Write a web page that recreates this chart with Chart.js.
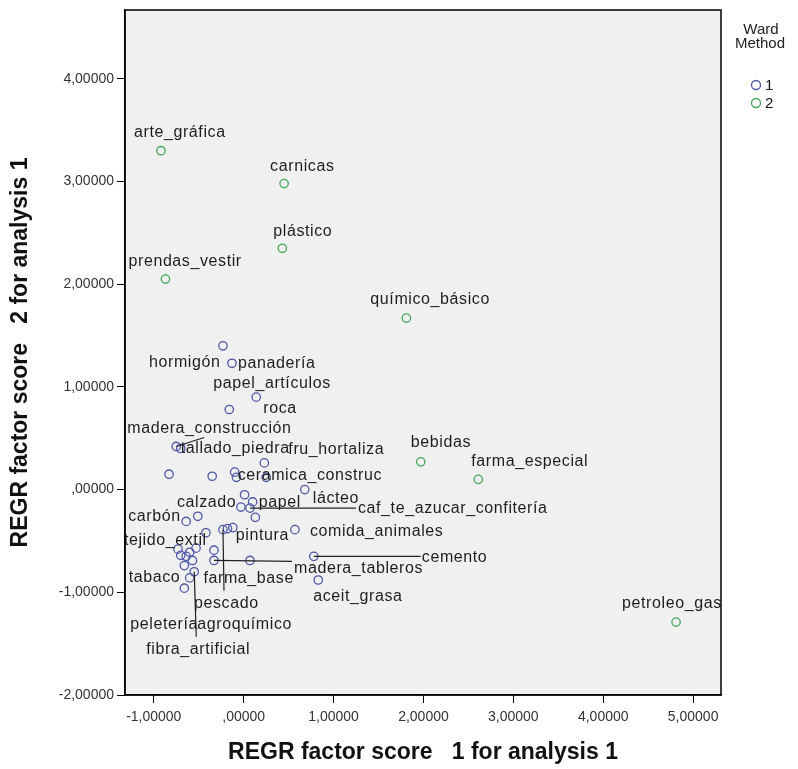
<!DOCTYPE html>
<html>
<head>
<meta charset="utf-8">
<script src="https://cdn.jsdelivr.net/npm/chart.js@4.4.1/dist/chart.umd.min.js"></script>
<style>
  html, body { margin: 0; padding: 0; background: #fff; }
  #wrap { width: 798px; height: 769px; position: relative; }
</style>
</head>
<body>
<div id="wrap"><canvas id="c" width="798" height="769"></canvas></div>
<script>
// Ward method cluster 1 – sector names and factor scores
const cluster1Names = [
  'hormigón', 'panadería', 'papel_artículos', 'roca', 'madera_construcción',
  'tallado_piedra', 'fru_hortaliza', '', '', 'ceramica_construc',
  '', '', '', 'papel', 'calzado',
  'caf_te_azucar_confitería', '', 'lácteo', 'carbón', '',
  'tejido_extil', 'pescado', '', 'pintura', 'comida_animales',
  '', 'madera_tableros', '', 'cemento', 'aceit_grasa',
  '', '', '', 'farma_base', 'agroquímico',
  'fibra_artificial', 'tabaco', 'peletería', '', ''
];
const cluster1X = [
  -0.23, -0.13, 0.14, -0.16, -0.75,
  -0.70, 0.23, -0.83, -0.35, -0.10,
  -0.08, 0.25, 0.01, 0.10, -0.03,
  0.07, 0.13, 0.68, -0.64, -0.51,
  -0.42, -0.23, -0.18, -0.12, 0.57,
  -0.33, -0.33, 0.07, 0.78, 0.83,
  -0.70, -0.64, -0.60, -0.57, -0.66,
  -0.55, -0.60, -0.66, -0.73, -0.53
];
const cluster1Y = [
  1.40, 1.23, 0.90, 0.78, 0.42,
  0.40, 0.26, 0.15, 0.13, 0.17,
  0.12, 0.12, -0.05, -0.12, -0.17,
  -0.18, -0.27, 0.00, -0.31, -0.26,
  -0.42, -0.39, -0.38, -0.37, -0.39,
  -0.59, -0.69, -0.69, -0.65, -0.88,
  -0.64, -0.65, -0.61, -0.69, -0.74,
  -0.80, -0.86, -0.96, -0.58, -0.57
];

// Ward method cluster 2
const cluster2Names = [
  'arte_gráfica', 'carnicas', 'plástico', 'prendas_vestir',
  'químico_básico', 'bebidas', 'farma_especial', 'petroleo_gas'
];
const cluster2X = [-0.92, 0.45, 0.43, -0.87, 1.81, 1.97, 2.61, 4.81];
const cluster2Y = [3.30, 2.98, 2.35, 2.05, 1.67, 0.27, 0.10, -1.29];

// Axis ticks and visible ranges
const xTickValues = [-1, 0, 1, 2, 3, 4, 5];
const yTickValues = [-2, -1, 0, 1, 2, 3, 4];
const xRange = [-1.32, 5.31];
const yRange = [-2, 4.67];

const seriesLabels = ['1', '2'];
const xTitle = 'REGR factor score   1 for analysis 1';
const yTitle = 'REGR factor score   2 for analysis 1';
const legendTitle = ['Ward', 'Method'];

// Label placement in pixels relative to the marker (text left edge / vertical middle),
// with optional leader line end (lx, ly)
const labelPlacement = {
  'arte_gráfica': { dx: -27, dy: -18 },
  'carnicas': { dx: -14, dy: -17 },
  'plástico': { dx: -9, dy: -17 },
  'prendas_vestir': { dx: -37, dy: -17 },
  'químico_básico': { dx: -36, dy: -19 },
  'bebidas': { dx: -10, dy: -19 },
  'farma_especial': { dx: -7, dy: -18 },
  'petroleo_gas': { dx: -54, dy: -18 },
  'hormigón': { dx: -74, dy: 17 },
  'panadería': { dx: 6, dy: 0 },
  'papel_artículos': { dx: -43, dy: -14 },
  'roca': { dx: 34, dy: -1 },
  'madera_construcción': { dx: -49, dy: -18, lx: 28, ly: -9 },
  'tallado_piedra': { dx: 0, dy: 0 },
  'fru_hortaliza': { dx: 24, dy: -13 },
  'ceramica_construc': { dx: 3, dy: 3 },
  'papel': { dx: 6, dy: 1 },
  'calzado': { dx: -64, dy: -4 },
  'caf_te_azucar_confitería': { dx: 108, dy: 1, lx: 106, ly: 0 },
  'lácteo': { dx: 8, dy: 9 },
  'carbón': { dx: -58, dy: -5 },
  'tejido_extil': { dx: -82, dy: 8 },
  'pescado': { dx: -29, dy: 74, lx: 1, ly: 61 },
  'pintura': { dx: 3, dy: 8 },
  'comida_animales': { dx: 15, dy: 2 },
  'madera_tableros': { dx: 80, dy: 8, lx: 78, ly: 1 },
  'cemento': { dx: 108, dy: 1, lx: 107, ly: 0 },
  'aceit_grasa': { dx: -5, dy: 17 },
  'farma_base': { dx: 11, dy: 18 },
  'agroquímico': { dx: 13, dy: 59 },
  'fibra_artificial': { dx: -48, dy: 78, lx: 2, ly: 65 },
  'tabaco': { dx: -61, dy: 0 },
  'peletería': { dx: -54, dy: 36 }
};

const FONT = "'Liberation Sans', Arial, sans-serif";
const seriesColors = ['rgb(78,88,168)', 'rgb(64,168,88)'];

function toPoints(xs, ys) {
  return xs.map((x, i) => ({ x: x, y: ys[i] }));
}

function fmtTick(v) {
  if (v === 0) return ',00000';
  return v.toFixed(5).replace('.', ',');
}

// Grey plot panel behind everything, black frame on top
const panelPlugin = {
  id: 'panel',
  beforeDraw(chart) {
    const a = chart.chartArea, ctx = chart.ctx;
    ctx.save();
    ctx.fillStyle = '#f0f0f0';
    ctx.fillRect(a.left, a.top, a.right - a.left, a.bottom - a.top);
    ctx.restore();
  },
  afterDraw(chart) {
    const a = chart.chartArea, ctx = chart.ctx;
    ctx.save();
    ctx.strokeStyle = '#000';
    ctx.lineWidth = 1.5;
    ctx.strokeRect(a.left, a.top, a.right - a.left, a.bottom - a.top);
    ctx.restore();
  }
};

// Case labels next to each marker, with leader lines where displaced
const caseLabelPlugin = {
  id: 'caseLabels',
  afterDatasetsDraw(chart) {
    const a = chart.chartArea, ctx = chart.ctx;
    ctx.save();
    ctx.beginPath();
    ctx.rect(a.left, a.top, a.right - a.left, a.bottom - a.top);
    ctx.clip();
    ctx.font = '16px ' + FONT;
    if ('letterSpacing' in ctx) ctx.letterSpacing = '0.6px';
    ctx.textAlign = 'left';
    ctx.textBaseline = 'middle';
    chart.data.datasets.forEach((ds, di) => {
      const meta = chart.getDatasetMeta(di);
      ds.names.forEach((name, i) => {
        if (!name) return;
        const p = labelPlacement[name] || { dx: 6, dy: -14 };
        const el = meta.data[i];
        if (p.lx !== undefined) {
          ctx.strokeStyle = '#222';
          ctx.lineWidth = 1.2;
          ctx.beginPath();
          ctx.moveTo(el.x, el.y);
          ctx.lineTo(el.x + p.lx, el.y + p.ly);
          ctx.stroke();
        }
        ctx.fillStyle = '#1e1e1e';
        ctx.fillText(name, el.x + p.dx, el.y + p.dy);
      });
    });
    ctx.restore();
  }
};

// Axis titles and the cluster legend
const annotatePlugin = {
  id: 'annotate',
  afterDraw(chart) {
    const a = chart.chartArea, ctx = chart.ctx;
    ctx.save();
    ctx.fillStyle = '#111';
    ctx.font = 'bold 23px ' + FONT;
    ctx.textAlign = 'center';
    ctx.textBaseline = 'middle';
    ctx.fillText(xTitle, (a.left + a.right) / 2, 753);
    ctx.save();
    ctx.translate(21, (a.top + a.bottom) / 2);
    ctx.rotate(-Math.PI / 2);
    ctx.fillText(yTitle, 0, 0);
    ctx.restore();

    ctx.font = '15px ' + FONT;
    ctx.fillStyle = '#222';
    ctx.fillText(legendTitle[0], 761, 30);
    ctx.fillText(legendTitle[1], 760, 44);
    chart.data.datasets.forEach((ds, i) => {
      const y = 85 + i * 18;
      ctx.beginPath();
      ctx.arc(756, y, 4.5, 0, Math.PI * 2);
      ctx.strokeStyle = ds.borderColor;
      ctx.lineWidth = 1.3;
      ctx.stroke();
      ctx.fillStyle = '#111';
      ctx.font = '15px ' + FONT;
      ctx.textAlign = 'left';
      ctx.fillText(ds.label, 765, y + 1);
    });
    ctx.restore();
  }
};

const ctx = document.getElementById('c').getContext('2d');
new Chart(ctx, {
  type: 'scatter',
  data: {
    datasets: [
      {
        label: seriesLabels[0],
        names: cluster1Names,
        data: toPoints(cluster1X, cluster1Y),
        borderColor: seriesColors[0],
        backgroundColor: 'rgba(0,0,0,0)',
        borderWidth: 1.3,
        pointRadius: 4.2,
        pointHoverRadius: 4.2
      },
      {
        label: seriesLabels[1],
        names: cluster2Names,
        data: toPoints(cluster2X, cluster2Y),
        borderColor: seriesColors[1],
        backgroundColor: 'rgba(0,0,0,0)',
        borderWidth: 1.3,
        pointRadius: 4.2,
        pointHoverRadius: 4.2
      }
    ]
  },
  options: {
    responsive: false,
    animation: false,
    devicePixelRatio: 1,
    layout: { padding: { top: 10, right: 77, left: 0, bottom: 0 } },
    plugins: { legend: { display: false }, tooltip: { enabled: false } },
    scales: {
      x: {
        type: 'linear',
        min: xRange[0],
        max: xRange[1],
        afterBuildTicks(s) { s.ticks = xTickValues.map(v => ({ value: v })); },
        afterFit(s) { s.height = 74; s.paddingLeft = 0; s.paddingRight = 0; },
        grid: { drawOnChartArea: false, drawTicks: true, tickLength: 8, color: '#000', lineWidth: 1 },
        border: { display: true, color: '#000', width: 1.5 },
        ticks: { callback: v => fmtTick(v), font: { family: FONT, size: 14 }, color: '#333', padding: 6, maxRotation: 0, autoSkip: false }
      },
      y: {
        type: 'linear',
        min: yRange[0],
        max: yRange[1],
        afterBuildTicks(s) { s.ticks = yTickValues.map(v => ({ value: v })); },
        afterFit(s) { s.width = 125; s.paddingTop = 0; s.paddingBottom = 0; },
        grid: { drawOnChartArea: false, drawTicks: true, tickLength: 8, color: '#000', lineWidth: 1 },
        border: { display: true, color: '#000', width: 1.5 },
        ticks: { callback: v => fmtTick(v), font: { family: FONT, size: 14 }, color: '#333', padding: 3, autoSkip: false }
      }
    }
  },
  plugins: [panelPlugin, caseLabelPlugin, annotatePlugin]
});
</script>
</body>
</html>
